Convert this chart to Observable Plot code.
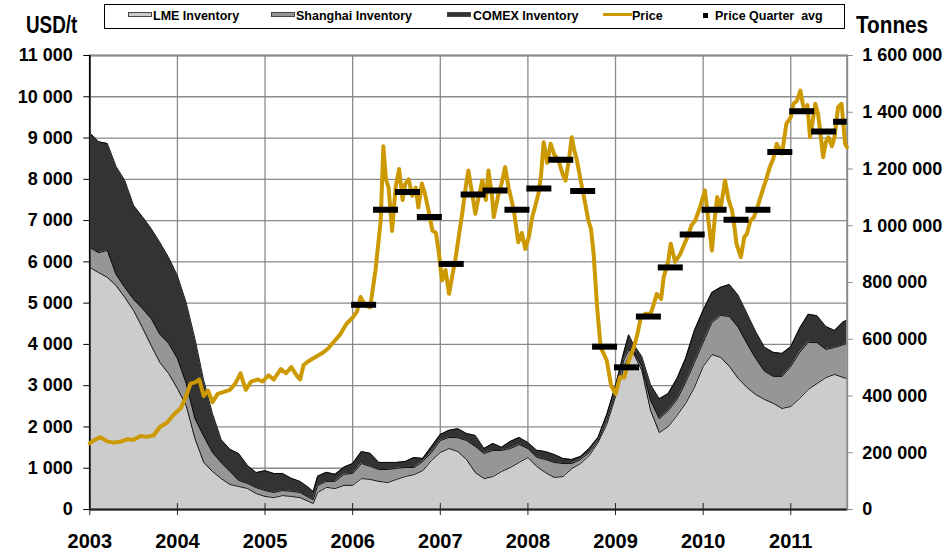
<!DOCTYPE html>
<html>
<head>
<meta charset="utf-8">
<script src="https://cdn.jsdelivr.net/npm/d3@7"></script>
<script src="https://cdn.jsdelivr.net/npm/@observablehq/plot@0.6"></script>
<style>
  body { margin: 0; background: #fff; }
  #wrap { position: relative; width: 945px; height: 550px; font-family: "Liberation Sans", Arial, sans-serif; font-weight: bold; color: #000; }
  #chart { position: absolute; left: 0; top: 0; }
  .ttl { position: absolute; font-size: 23px; line-height: 23px; white-space: nowrap; transform-origin: left top; }
  #legend { position: absolute; left: 104px; top: 4px; width: 741px; height: 25px; border: 1px solid #000; box-sizing: border-box; background: #fff; }
  .sw { position: absolute; top: 12px; width: 24px; height: 5px; box-sizing: border-box; border: 1px solid #444; }
  .lt { position: absolute; top: 10px; font-size: 12.5px; line-height: 13px; white-space: nowrap; }
</style>
</head>
<body>
<div id="wrap">
  <div id="chart"></div>
  <div class="ttl" style="left:26px;top:14px;transform:scaleX(0.82);">USD/t</div>
  <div class="ttl" style="left:856px;top:14px;transform:scaleX(0.9);">Tonnes</div>
  <div id="legend"></div>
  <div class="sw" style="left:128px;background:#cccccc;"></div>
  <div class="lt" style="left:153px;">LME Inventory</div>
  <div class="sw" style="left:271px;background:#969696;"></div>
  <div class="lt" style="left:296px;">Shanghai Inventory</div>
  <div class="sw" style="left:447px;background:#333333;"></div>
  <div class="lt" style="left:473px;">COMEX Inventory</div>
  <div style="position:absolute;left:603px;top:13px;width:29px;height:3px;background:#cc9900;"></div>
  <div class="lt" style="left:632px;">Price</div>
  <div style="position:absolute;left:703px;top:13px;width:5px;height:5px;background:#000;"></div>
  <div class="lt" style="left:715px;">Price Quarter&nbsp; avg</div>
</div>
<script>
// ---------- data ----------
const years = [2003, 2004, 2005, 2006, 2007, 2008, 2009, 2010, 2011];
const usdTicks = [0, 1000, 2000, 3000, 4000, 5000, 6000, 7000, 8000, 9000, 10000, 11000];
const tonneTicks = [0, 200000, 400000, 600000, 800000, 1000000, 1200000, 1400000, 1600000];

// Price, USD/t (decimal year)
const priceYear = [2003.00,2003.05,2003.12,2003.20,2003.27,2003.35,2003.42,2003.50,2003.58,2003.65,2003.73,2003.80,2003.88,2003.96,
 2004.04,2004.10,2004.15,2004.20,2004.25,2004.30,2004.35,2004.40,2004.46,2004.53,2004.60,2004.66,2004.72,2004.78,2004.84,2004.92,2004.97,
 2005.04,2005.10,2005.18,2005.24,2005.30,2005.36,2005.40,2005.44,2005.50,2005.58,2005.66,2005.72,2005.80,2005.86,2005.93,
 2006.00,2006.05,2006.09,2006.14,2006.20,2006.26,2006.32,2006.35,2006.38,2006.41,2006.45,2006.49,2006.53,2006.57,2006.60,2006.64,2006.68,2006.72,2006.75,2006.79,2006.83,2006.87,2006.91,2006.95,2006.98,
 2007.02,2007.06,2007.10,2007.14,2007.17,2007.21,2007.25,2007.29,2007.32,2007.36,2007.40,2007.44,2007.48,2007.52,2007.55,2007.59,2007.61,2007.66,2007.70,2007.74,2007.78,2007.84,2007.89,2007.93,2007.97,
 2008.01,2008.05,2008.09,2008.12,2008.15,2008.18,2008.22,2008.26,2008.30,2008.35,2008.40,2008.43,2008.47,2008.50,2008.53,2008.56,2008.60,2008.64,2008.69,2008.72,2008.75,2008.79,2008.83,2008.87,2008.90,2008.95,
 2009.00,2009.05,2009.10,2009.15,2009.21,2009.25,2009.29,2009.34,2009.40,2009.44,2009.47,2009.52,2009.55,2009.60,2009.63,2009.68,2009.74,2009.78,2009.82,2009.87,2009.91,2009.96,
 2010.02,2010.06,2010.10,2010.13,2010.16,2010.20,2010.25,2010.29,2010.33,2010.36,2010.38,2010.43,2010.47,2010.50,2010.54,2010.58,2010.63,2010.69,2010.72,2010.76,2010.80,2010.84,2010.90,2010.95,
 2011.00,2011.03,2011.07,2011.11,2011.14,2011.16,2011.19,2011.22,2011.25,2011.28,2011.31,2011.33,2011.37,2011.40,2011.43,2011.47,2011.50,2011.54,2011.58,2011.62,2011.64];
const priceUSD = [1600,1680,1750,1650,1620,1640,1700,1690,1780,1760,1800,2000,2100,2300,
 2460,2750,3050,3080,3150,2750,2880,2600,2800,2850,2900,3050,3300,2900,3100,3150,3100,
 3250,3150,3400,3300,3450,3250,3150,3500,3600,3700,3800,3900,4100,4250,4500,
 4650,4800,5150,4950,4900,5790,7000,8800,8000,7800,6750,7800,8250,7500,7890,8000,7600,7800,7320,7900,7600,7200,6760,6700,6275,
 5550,5800,5225,5700,6030,6600,7165,7800,8215,7700,7165,7600,7970,7500,8215,7600,7085,7600,7900,8295,7800,7245,6475,6700,6315,
 6600,7085,7400,7650,8100,8900,8400,8860,8600,8455,8100,7970,8500,9020,8700,8455,8000,7570,7000,6800,6195,4900,3930,3750,3610,3000,
 2800,3205,3200,3600,3930,4255,4660,4740,4740,5000,5225,5100,5630,6000,6440,6000,6195,6400,6600,6900,7000,7300,
 7730,7000,6275,7000,7570,7300,7970,7500,7245,6800,6440,6115,6600,6680,7000,7085,7400,7810,8000,8295,8500,8860,8620,9345,
 9500,9830,9900,10150,9800,9670,9800,9020,9400,9830,9600,9265,8535,8900,9020,8800,9020,9750,9830,8860,8780];

// Price quarter averages, USD/t (quarter mid-points)
const qYear = [2006.125,2006.375,2006.625,2006.875,2007.125,2007.375,2007.625,2007.875,
 2008.125,2008.375,2008.625,2008.875,2009.125,2009.375,2009.625,2009.875,
 2010.125,2010.375,2010.625,2010.875,2011.125,2011.375,2011.625];
const qAvg = [4960,7260,7690,7085,5950,7630,7730,7260,
 7780,8475,7715,3945,3445,4675,5865,6660,
 7260,7020,7260,8660,9650,9160,9395];

// Inventories, thousand tonnes
const invYear = [2003.0,2003.1,2003.2,2003.3,2003.4,2003.5,2003.6,2003.7,2003.8,2003.9,
 2004.0,2004.1,2004.2,2004.3,2004.4,2004.5,2004.6,2004.7,2004.8,2004.9,
 2005.0,2005.1,2005.2,2005.3,2005.4,2005.5,2005.55,2005.6,2005.7,2005.8,2005.9,
 2006.0,2006.1,2006.2,2006.3,2006.4,2006.5,2006.6,2006.7,2006.8,2006.9,
 2007.0,2007.1,2007.2,2007.3,2007.4,2007.5,2007.6,2007.7,2007.8,2007.9,
 2008.0,2008.1,2008.2,2008.3,2008.4,2008.5,2008.6,2008.7,2008.8,2008.9,
 2009.0,2009.1,2009.15,2009.2,2009.3,2009.4,2009.5,2009.6,2009.7,2009.8,2009.9,
 2010.0,2010.1,2010.2,2010.3,2010.4,2010.5,2010.6,2010.7,2010.8,2010.9,
 2011.0,2011.1,2011.2,2011.3,2011.4,2011.5,2011.6,2011.64];
const lme = [853,835,818,789,747,701,641,578,518,479,
 426,366,250,166,134,109,88,81,74,56,
 46,42,49,46,42,28,21,60,78,74,85,
 85,109,106,99,95,106,116,123,137,173,
 201,215,204,176,130,109,116,134,148,166,
 183,152,130,113,116,144,162,190,236,300,
 398,504,539,553,490,349,271,292,331,374,430,
 504,546,536,504,462,430,405,388,374,356,
 363,391,423,444,465,476,465,462];
const shanghai = [70,70,95,39,35,39,67,95,99,106,
 106,78,70,92,67,56,46,21,18,21,
 21,18,18,18,18,14,14,25,21,25,39,
 42,53,46,42,46,39,32,25,32,28,
 42,39,49,67,92,88,92,74,67,63,
 32,32,46,53,46,18,14,11,7,14,
 14,28,21,7,14,35,49,56,56,74,88,
 85,113,148,176,180,155,127,99,95,113,
 141,162,166,144,99,95,116,123];
const comex = [405,391,377,381,377,331,324,317,324,303,
 292,285,282,197,137,81,78,95,63,53,
 70,67,60,46,39,35,28,32,32,25,25,
 35,42,46,25,25,21,21,35,11,21,
 21,25,32,25,39,18,25,11,25,25,
 21,25,28,28,18,14,11,14,11,21,
 25,28,56,25,35,56,70,60,74,85,113,
 113,106,99,113,113,106,95,85,85,81,
 70,85,99,95,81,60,81,81];

// ---------- build ----------
const K = 11000 / 1600000; // tonnes -> left-axis units (dual axis)
const inv = [];
[["LME", lme], ["Shanghai", shanghai], ["COMEX", comex]].forEach(([s, arr]) =>
  arr.forEach((v, i) => inv.push({t: invYear[i], s, v: v * 1000})));
const price = priceYear.map((t, i) => ({t, p: priceUSD[i]}));
const quarters = qYear.map((t, i) => ({t, p: qAvg[i]}));
const fmt = d => d3.format(",")(d).replace(/,/g, " ");
const dash = {draw(ctx) { ctx.moveTo(-12.5, -3); ctx.lineTo(12.5, -3); ctx.lineTo(12.5, 3); ctx.lineTo(-12.5, 3); ctx.closePath(); }};
const grid = "#8a8a8a";

const chart = Plot.plot({
  width: 945, height: 550,
  marginLeft: 89.3, marginRight: 98.3, marginTop: 55, marginBottom: 41,
  style: {fontFamily: '"Liberation Sans", Arial, sans-serif', fontWeight: "bold", color: "#000", background: "transparent", overflow: "visible"},
  x: {type: "linear", domain: [2003, 2011.644]},
  y: {domain: [0, 11000]},
  color: {domain: ["LME", "Shanghai", "COMEX"], range: ["#cccccc", "#969696", "#333333"]},
  marks: [
    Plot.gridY({ticks: usdTicks, stroke: grid, strokeOpacity: 1, strokeWidth: 1.3}),
    Plot.gridX({ticks: years, stroke: grid, strokeOpacity: 1, strokeWidth: 1.3}),
    Plot.areaY(inv, {x: "t", y: d => d.v * K, z: "s", fill: "s"}),
    Plot.lineY(inv, Plot.stackY2({x: "t", y: d => d.v * K, z: "s", stroke: "#000", strokeWidth: 0.9})),
    Plot.frame({stroke: grid, strokeWidth: 2}),
    Plot.ruleX([years[0]], {stroke: "#000", strokeWidth: 1.5}),
    Plot.ruleY([0], {stroke: "#222", strokeWidth: 2}),
    Plot.axisY({ticks: usdTicks, tickFormat: fmt, tickSize: 6, tickPadding: 11, fontSize: 18, label: null, stroke: "#000"}),
    Plot.axisY({anchor: "right", ticks: tonneTicks.map(d => d * K), tickFormat: d => fmt(Math.round(d / K)), tickSize: 5, tickPadding: 10, fontSize: 18, label: null, stroke: grid, fill: "#000"}),
    Plot.axisX({ticks: years, tickFormat: d => String(d), tickSize: 6, tickPadding: 18, fontSize: 20, label: null, stroke: "#222"}),
    Plot.axisX({ticks: years, tickFormat: () => "", tickSize: 6, dy: -6, label: null, stroke: "#222"}),
    Plot.line(price, {x: "t", y: "p", stroke: "#cc9900", strokeWidth: 4, strokeLinejoin: "round"}),
    Plot.dot(quarters, {x: "t", y: "p", symbol: dash, fill: "#000", stroke: "none", clip: true})
  ]
});
document.getElementById("chart").appendChild(chart);
</script>
</body>
</html>
